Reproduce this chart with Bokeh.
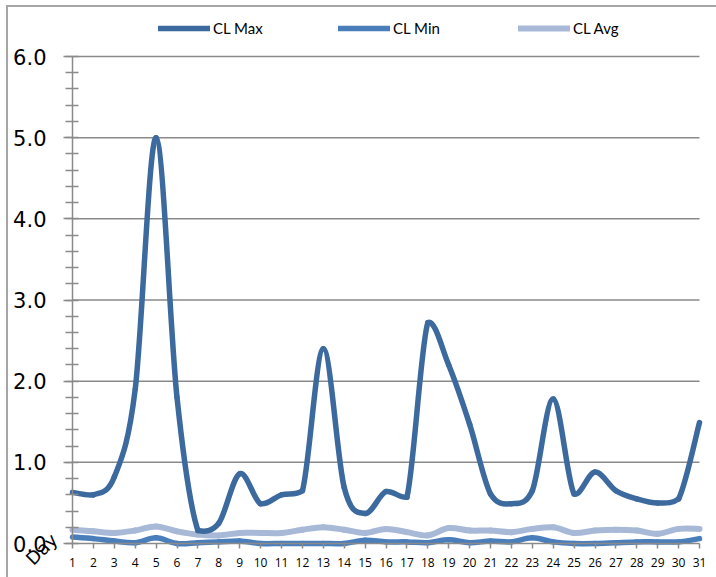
from bokeh.plotting import figure
from bokeh.models import (Range1d, FixedTicker, ColumnDataSource, Legend, LegendItem, Label)
from bokeh.embed import file_html
from bokeh.resources import INLINE

days = list(range(1, 32))
day_labels = [str(d) for d in days]
cl_max = [0.63, 0.60, 0.82, 1.90, 5.00, 1.80, 0.16, 0.25, 0.86, 0.49, 0.60, 0.65, 2.40, 0.69,
          0.37, 0.64, 0.57, 2.72, 2.20, 1.47, 0.61, 0.49, 0.65, 1.78, 0.61, 0.88, 0.65, 0.55,
          0.50, 0.55, 1.49]
cl_min = [0.08, 0.06, 0.03, 0.01, 0.07, 0.00, 0.01, 0.02, 0.03, 0.00, 0.00, 0.00, 0.00, 0.00,
          0.04, 0.02, 0.02, 0.01, 0.045, 0.01, 0.03, 0.02, 0.07, 0.02, 0.00, 0.00, 0.01, 0.02,
          0.02, 0.02, 0.06]
cl_avg = [0.17, 0.15, 0.13, 0.16, 0.21, 0.15, 0.11, 0.10, 0.13, 0.13, 0.13, 0.17, 0.20, 0.17,
          0.13, 0.18, 0.14, 0.10, 0.19, 0.16, 0.16, 0.14, 0.18, 0.20, 0.13, 0.16, 0.17, 0.16,
          0.12, 0.18, 0.18]
y_ticks = [0, 1, 2, 3, 4, 5, 6]
y_tick_labels = ["0.0", "1.0", "2.0", "3.0", "4.0", "5.0", "6.0"]
series_names = ["CL Max", "CL Min", "CL Avg"]
colors = ["#3C6A9E", "#4A7EBB", "#A7B9D7"]

# ---- layout constants (pixels) ----
FIG_X, FIG_Y = 6, 5              # figure offset on page (room for border lines)
W, H = 710, 572                  # figure size
PLOT_L, PLOT_R = 72, 699         # page x of first / last day
PLOT_T, PLOT_B = 56, 543         # page y of top / bottom value
x_lo, x_hi = days[0], days[-1]
y_lo, y_hi = y_ticks[0], y_ticks[-1]
px_x = (PLOT_R - PLOT_L) / (x_hi - x_lo)
px_y = (PLOT_B - PLOT_T) / (y_hi - y_lo)
xr = Range1d(x_lo - (PLOT_L - FIG_X) / px_x, x_hi + (FIG_X + W - PLOT_R) / px_x)
yr = Range1d(y_lo - (FIG_Y + H - PLOT_B) / px_y, y_hi + (PLOT_T - FIG_Y) / px_y)


def bezier_source(xs, ys):
    """Smoothed-line segments (Excel-like) as cubic Bezier control points."""
    n = len(xs)
    d = dict(x0=[], y0=[], x1=[], y1=[], cx0=[], cy0=[], cx1=[], cy1=[])
    for i in range(n - 1):
        p0 = (xs[max(i - 1, 0)], ys[max(i - 1, 0)])
        p1 = (xs[i], ys[i])
        p2 = (xs[i + 1], ys[i + 1])
        p3 = (xs[min(i + 2, n - 1)], ys[min(i + 2, n - 1)])
        lo, hi = min(p1[1], p2[1]), max(p1[1], p2[1])
        pad = 0.08 * (hi - lo) + 0.01
        cy0 = p1[1] + (p2[1] - p0[1]) / 6.0
        cy1 = p2[1] - (p3[1] - p1[1]) / 6.0
        cy0 = min(max(cy0, lo - pad), hi + pad)
        cy1 = min(max(cy1, lo - pad), hi + pad)
        d["x0"].append(p1[0]); d["y0"].append(p1[1])
        d["x1"].append(p2[0]); d["y1"].append(p2[1])
        d["cx0"].append(p1[0] + (p2[0] - p0[0]) / 6.0)
        d["cy0"].append(cy0)
        d["cx1"].append(p2[0] - (p3[0] - p1[0]) / 6.0)
        d["cy1"].append(cy1)
    return ColumnDataSource(d)


p = figure(width=W, height=H, output_backend="svg", toolbar_location=None,
           x_range=xr, y_range=yr, min_border=0)
p.margin = (FIG_Y, 0, 0, FIG_X)
p.outline_line_color = None
p.background_fill_color = None
p.border_fill_color = None
p.styles = {"box-shadow": "inset 2px 2px 0 0 #a6a6a6"}

GRID = "#8a8a8a"

# horizontal grid lines between first and last day
p.segment(x0=x_lo, x1=x_hi, y0=y_ticks[1:], y1=y_ticks[1:], line_color=GRID, line_width=1.5)
p.xgrid.grid_line_color = None
p.ygrid.grid_line_color = None

# axes
ax = p.yaxis[0]
ax.fixed_location = x_lo
ax.bounds = (y_lo, y_hi)
ax.ticker = FixedTicker(ticks=y_ticks, minor_ticks=[i * 0.2 for i in range(31)])
ax.major_label_overrides = {t: l for t, l in zip(y_ticks, y_tick_labels)}
ax.major_label_text_font = "DejaVu Sans"
ax.major_label_text_font_size = "21px"
ax.major_label_text_color = "black"
ax.major_label_standoff = 17
ax.major_tick_out = 9
ax.major_tick_in = 0
ax.minor_tick_out = 7
ax.minor_tick_in = 6
ax.axis_line_color = GRID
ax.major_tick_line_color = GRID
ax.minor_tick_line_color = GRID
ax.axis_line_width = 1.5
ax.major_tick_line_width = 1.5
ax.minor_tick_line_width = 1.5

bx = p.xaxis[0]
bx.fixed_location = y_lo
bx.bounds = (x_lo, x_hi)
bx.ticker = FixedTicker(ticks=days)
bx.major_label_overrides = {d: l for d, l in zip(days, day_labels)}
bx.major_label_text_font = "Open Sans"
bx.major_label_text_font_size = "12px"
bx.major_label_text_color = "black"
bx.major_label_standoff = 9
bx.major_tick_out = 5
bx.major_tick_in = 0
bx.minor_tick_line_color = None
bx.axis_line_color = GRID
bx.major_tick_line_color = GRID
bx.axis_line_width = 1.5
bx.major_tick_line_width = 1.5

# series (avg under, max on top)
widths = {"CL Max": 5.5, "CL Min": 5.5, "CL Avg": 6}
rend = {}
for name, ys, col in [("CL Avg", cl_avg, colors[2]), ("CL Min", cl_min, colors[1]), ("CL Max", cl_max, colors[0])]:
    src = bezier_source(days, ys)
    rend[name] = p.bezier(x0="x0", y0="y0", x1="x1", y1="y1", cx0="cx0", cy0="cy0",
                          cx1="cx1", cy1="cy1", source=src, line_color=col, line_width=widths[name],
                          line_cap="round", line_join="round")

legend = Legend(items=[LegendItem(label=n, renderers=[rend[n]]) for n in series_names],
                orientation="horizontal", location=(158 - FIG_X, FIG_Y + H - 37),
                glyph_width=52, glyph_height=16, label_standoff=3, label_width=125,
                label_height=16, spacing=0, padding=0, margin=0,
                border_line_color=None, background_fill_alpha=0,
                label_text_font="Lato", label_text_font_size="15px", label_text_color="black")
p.add_layout(legend)

p.add_layout(Label(x=-0.48, y=-0.07, text="Day", angle=0.785,
                   text_align="center", text_baseline="middle", text_font="DejaVu Sans",
                   text_font_size="18px", text_color="black"))

open("out.html", "w").write(file_html(p, INLINE))
